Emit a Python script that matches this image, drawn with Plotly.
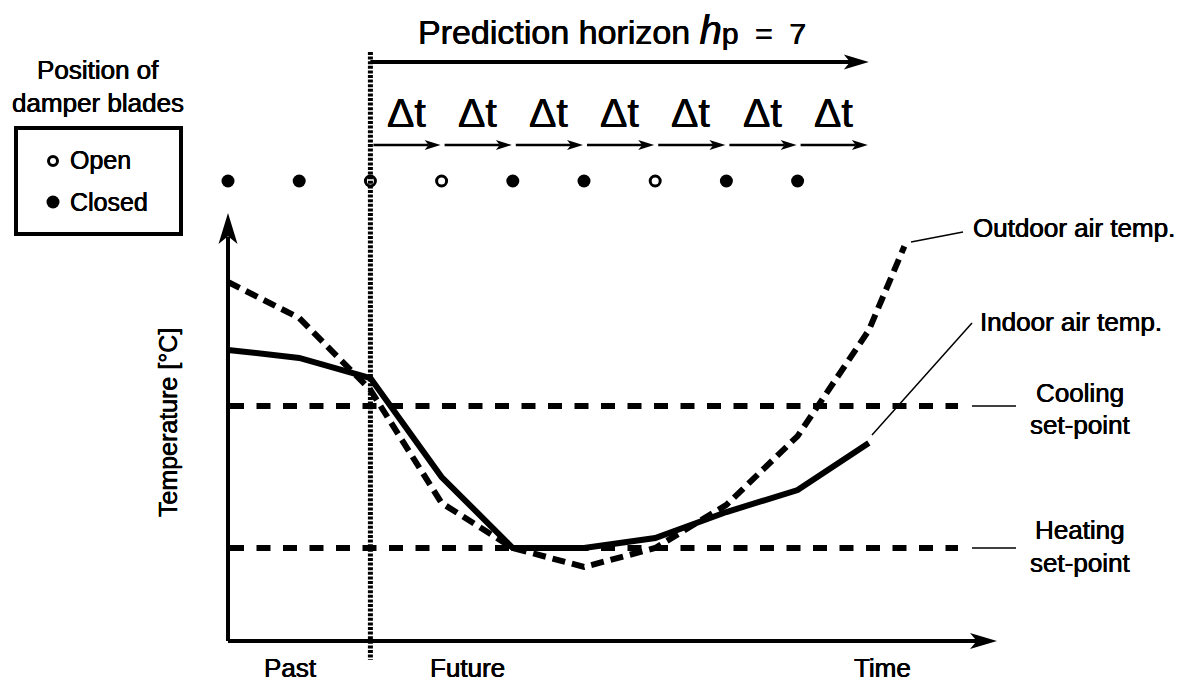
import plotly.graph_objects as go

# ---------------- data ----------------
time_steps = [-2, -1, 0, 1, 2, 3, 4, 5, 6, 7]
indoor_temp = [28.37, 28.03, 27.18, 23.0, 20.0, 20.0, 20.42, 21.52, 22.45, 24.44]
outdoor_time = [-2, -1, 0, 1, 2, 3, 4, 5, 6, 7, 7.5]
outdoor_temp = [31.24, 29.72, 26.68, 21.9, 20.0, 19.2, 20.0, 21.82, 24.73, 29.2, 32.75]
damper_time = [-2, -1, 0, 1, 2, 3, 4, 5, 6]
damper_state = ["Closed", "Closed", "Open", "Open", "Closed", "Closed", "Open", "Closed", "Closed"]
heating_setpoint = 20.0
cooling_setpoint = 26.0
horizon = 7
now_step = 0

# ---------------- layout geometry ----------------
W, H = 1186, 685
X0_PX, PX_PER_STEP = 228, 71.2
Y0_PX, PX_PER_DEG = 406, 23.667
T0 = time_steps[0]


def xd(px):
    return T0 + (px - X0_PX) / PX_PER_STEP


def yd(py):
    return cooling_setpoint + (Y0_PX - py) / PX_PER_DEG


FONT = "Liberation Sans, Arial, sans-serif"
BLACK = "black"
SHADOW = "0.35px 0 0 #000, -0.35px 0 0 #000"

fig = go.Figure()

shapes = []
annotations = []


def head(x, y, direction, length, half):
    n = length * 0.75
    if direction == "up":
        path = f"M0,0 L{-half},{-length} L0,{-n} L{half},{-length} Z"
    else:
        path = f"M0,0 L{-length},{half} L{-n},0 L{-length},{-half} Z"
    return dict(type="path", xref="x", yref="y", xsizemode="pixel", ysizemode="pixel",
                xanchor=x, yanchor=y, path=path, fillcolor=BLACK, line=dict(width=0),
                layer="above")


def line(x0, y0, x1, y1, width, dash="solid", layer="above"):
    return dict(type="line", xref="x", yref="y", x0=x0, y0=y0, x1=x1, y1=y1,
                line=dict(color=BLACK, width=width, dash=dash), layer=layer)


def text(x, y, s, size, xanchor="center", yanchor="middle", angle=0):
    return dict(x=x, y=y, xref="x", yref="y", text=s, showarrow=False,
                font=dict(family=FONT, size=size, color=BLACK, shadow=SHADOW),
                xanchor=xanchor, yanchor=yanchor, textangle=angle)


# axes (arrows)
axis_y_px = 641
t_axis_end = xd(997)
T_axis_top = yd(213)
shapes.append(line(T0, yd(axis_y_px), T0, yd(213 + 24), 4))
shapes.append(head(T0, T_axis_top, "up", 31, 9.5))
shapes.append(line(T0, yd(axis_y_px), xd(997 - 20), yd(axis_y_px), 4))
shapes.append(head(t_axis_end, yd(axis_y_px), "right", 27, 8))

# setpoint lines
for sp in (cooling_setpoint, heating_setpoint):
    shapes.append(line(xd(230), sp, xd(958), sp, 6, dash="14px,12.5px", layer="below"))

# now line (dotted)
shapes.append(line(now_step, yd(52), now_step, yd(660), 5, dash="3px,1.6px", layer="below"))

# prediction horizon arrow
hz_y = yd(62)
shapes.append(line(now_step, hz_y, now_step + horizon - 25 * 0.75 / PX_PER_STEP, hz_y, 4))
shapes.append(head(now_step + horizon, hz_y, "right", 25, 7.5))

# delta t arrows
dt_y = yd(145)
for k in range(horizon):
    a = now_step + k + 3 / PX_PER_STEP
    b = now_step + k + 1 - 1 / PX_PER_STEP
    shapes.append(line(a, dt_y, b - 16 * 0.75 / PX_PER_STEP, dt_y, 2.5))
    shapes.append(head(b, dt_y, "right", 16, 5))
    annotations.append(text(now_step + k + 0.5, yd(113), "Δt", 41))

# legend box
shapes.append(dict(type="rect", xref="x", yref="y", x0=xd(16), x1=xd(181), y0=yd(128), y1=yd(234),
                   line=dict(color=BLACK, width=4), fillcolor="rgba(0,0,0,0)"))

# leader lines
shapes.append(line(xd(911), yd(242), xd(963), yd(232), 1.5))
shapes.append(line(xd(872), yd(435), xd(972), yd(323), 1.5))
shapes.append(line(xd(972), cooling_setpoint, xd(1016), cooling_setpoint, 1.5))
shapes.append(line(xd(972), heating_setpoint, xd(1016), heating_setpoint, 1.5))

# ---------------- traces ----------------
fig.add_trace(go.Scatter(x=outdoor_time, y=outdoor_temp, mode="lines",
                         line=dict(color=BLACK, width=6, dash="13px,7px"), hoverinfo="skip"))
fig.add_trace(go.Scatter(x=time_steps, y=indoor_temp, mode="lines",
                         line=dict(color=BLACK, width=6), hoverinfo="skip"))

damper_y = yd(181)
closed_x = [t for t, s in zip(damper_time, damper_state) if s == "Closed"]
open_x = [t for t, s in zip(damper_time, damper_state) if s == "Open"]
fig.add_trace(go.Scatter(x=closed_x, y=[damper_y] * len(closed_x), mode="markers",
                         marker=dict(symbol="circle", size=13, color=BLACK, line=dict(width=0)),
                         hoverinfo="skip"))
fig.add_trace(go.Scatter(x=open_x, y=[damper_y] * len(open_x), mode="markers",
                         marker=dict(symbol="circle-open", size=10, color=BLACK, line=dict(width=3)),
                         hoverinfo="skip"))
# legend markers
fig.add_trace(go.Scatter(x=[xd(53)], y=[yd(161)], mode="markers",
                         marker=dict(symbol="circle-open", size=9, color=BLACK, line=dict(width=3)),
                         hoverinfo="skip"))
fig.add_trace(go.Scatter(x=[xd(53)], y=[yd(202)], mode="markers",
                         marker=dict(symbol="circle", size=13, color=BLACK, line=dict(width=0)),
                         hoverinfo="skip"))

# ---------------- texts ----------------
annotations += [
    text(xd(98), yd(70), "Position of", 26),
    text(xd(98), yd(103), "damper blades", 26),
    text(xd(68), yd(160), "Open", 25, xanchor="left"),
    text(xd(68), yd(202), "Closed", 25, xanchor="left"),
    text(xd(416), yd(30),
         "Prediction horizon <i><span style='font-size:40px'>h</span></i>"
         "<span style='font-size:30px'>p  =  7</span>", 34,
         xanchor="left"),
    text(xd(971), yd(228), "Outdoor air temp.", 26, xanchor="left"),
    text(xd(978), yd(322), "Indoor air temp.", 26, xanchor="left"),
    text(xd(1080), yd(393), "Cooling", 26),
    text(xd(1080), yd(425), "set-point", 26),
    text(xd(1080), yd(530), "Heating", 26),
    text(xd(1080), yd(563), "set-point", 26),
    text(xd(168), yd(423), "Temperature [°C]", 25, angle=-90),
    text(xd(290), yd(685), "Past", 26, yanchor="bottom"),
    text(xd(467), yd(685), "Future", 26, yanchor="bottom"),
    text(xd(882), yd(668), "Time", 26),
]

fig.update_layout(
    width=W, height=H,
    margin=dict(l=0, r=0, t=0, b=0, pad=0),
    paper_bgcolor="white", plot_bgcolor="white",
    showlegend=False,
    xaxis=dict(visible=False, range=[xd(0), xd(W)], fixedrange=True),
    yaxis=dict(visible=False, range=[yd(H), yd(0)], fixedrange=True),
    shapes=shapes,
    annotations=annotations,
)

fig.write_html("out.html", config={"displayModeBar": False},
               post_script="document.body.style.margin='0';document.body.style.overflow='hidden';")
